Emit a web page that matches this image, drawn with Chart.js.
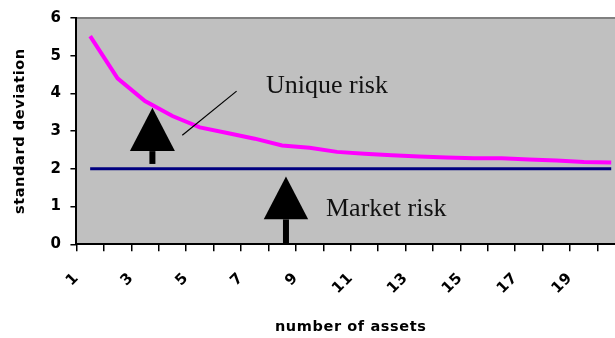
<!DOCTYPE html>
<html>
<head>
<meta charset="utf-8">
<script src="https://cdn.jsdelivr.net/npm/chart.js@4/dist/chart.umd.min.js"></script>
<style>
    html, body { margin: 0; padding: 0; background: #fff; overflow: hidden; }
    #wrap { position: absolute; left: 0; top: 0; width: 642px; height: 338px; }
</style>
</head>
<body>
<div id="wrap"><canvas id="riskChart"></canvas></div>
<script>
// number of assets in the portfolio
const assets = ['1', '2', '3', '4', '5', '6', '7', '8', '9', '10',
    '11', '12', '13', '14', '15', '16', '17', '18', '19', '20'];
// only every second category is labelled on the axis
const shownLabels = ['1', '3', '5', '7', '9', '11', '13', '15', '17', '19'];
// total risk (pink) and market risk (navy)
const totalRisk = [5.52, 4.4, 3.8, 3.4, 3.1, 2.95, 2.8, 2.62, 2.56, 2.45,
    2.4, 2.36, 2.33, 2.3, 2.28, 2.28, 2.25, 2.22, 2.18, 2.17];
const marketRisk = [2, 2, 2, 2, 2, 2, 2, 2, 2, 2,
    2, 2, 2, 2, 2, 2, 2, 2, 2, 2];
const yTicks = [0, 1, 2, 3, 4, 5, 6];

const axisFont = 'DejaVu Sans';

// grey plot background + thin top border, excel style
const plotBackground = {
    id: 'plotBackground',
    beforeLayout(chart) {
        chart.ctx.letterSpacing = '0.6px';
    },
    beforeDraw(chart) {
        const { ctx, chartArea } = chart;
        ctx.letterSpacing = '0.6px';
        ctx.save();
        ctx.fillStyle = '#c0c0c0';
        ctx.fillRect(chartArea.left, chartArea.top, chartArea.right - chartArea.left, chartArea.bottom - chartArea.top);
        ctx.strokeStyle = '#808080';
        ctx.lineWidth = 2;
        ctx.beginPath();
        ctx.moveTo(chartArea.left, chartArea.top);
        ctx.lineTo(chartArea.right, chartArea.top);
        ctx.lineTo(chartArea.right, chartArea.bottom);
        ctx.stroke();
        ctx.restore();
    }
};

// arrows, pointer line and the two labels
const riskNotes = {
    id: 'riskNotes',
    afterDatasetsDraw(chart) {
        const { ctx } = chart;
        const x = chart.scales.x;
        const y = chart.scales.y;
        const catW = x.getPixelForValue(1) - x.getPixelForValue(0);

        function arrow(cx, tip, base, bottom, half) {
            const px = x.getPixelForValue(cx);
            ctx.fillStyle = '#000';
            ctx.beginPath();
            ctx.moveTo(px, y.getPixelForValue(tip));
            ctx.lineTo(px - half * catW, y.getPixelForValue(base));
            ctx.lineTo(px + half * catW, y.getPixelForValue(base));
            ctx.closePath();
            ctx.fill();
            ctx.fillRect(px - 3, y.getPixelForValue(base), 6, y.getPixelForValue(bottom) - y.getPixelForValue(base));
        }

        ctx.save();
        ctx.letterSpacing = '0px';
        arrow(2.27, 3.62, 2.47, 2.13, 0.82);
        arrow(7.14, 1.8, 0.66, 0, 0.81);

        ctx.strokeStyle = '#000';
        ctx.lineWidth = 1.2;
        ctx.beginPath();
        ctx.moveTo(x.getPixelForValue(3.36), y.getPixelForValue(2.89));
        ctx.lineTo(x.getPixelForValue(5.34), y.getPixelForValue(4.06));
        ctx.stroke();

        ctx.fillStyle = '#111';
        ctx.font = '26px "Liberation Serif", "Times New Roman", serif';
        ctx.textAlign = 'left';
        ctx.textBaseline = 'alphabetic';
        ctx.fillText('Unique risk', x.getPixelForValue(6.41), y.getPixelForValue(4.02));
        ctx.fillText('Market risk', x.getPixelForValue(8.6), y.getPixelForValue(0.74));
        ctx.restore();
    }
};

new Chart(document.getElementById('riskChart'), {
    type: 'line',
    data: {
        labels: assets,
        datasets: [{
            label: 'Market risk',
            data: marketRisk,
            borderColor: '#000080',
            borderWidth: 3,
            pointRadius: 0,
            fill: false
        }, {
            label: 'Total risk',
            data: totalRisk,
            borderColor: '#ff00ff',
            borderWidth: 4,
            pointRadius: 0,
            tension: 0,
            fill: false
        }]
    },
    options: {
        responsive: true,
        maintainAspectRatio: false,
        animation: false,
        layout: {
            padding: { left: 12, top: 10, right: 2, bottom: 2 }
        },
        plugins: {
            legend: { display: false },
            tooltip: { enabled: false }
        },
        scales: {
            x: {
                offset: true,
                grid: {
                    offset: true,
                    drawOnChartArea: false,
                    drawTicks: true,
                    tickLength: 7,
                    color: '#000',
                    lineWidth: 1.5
                },
                border: { color: '#000', width: 2 },
                ticks: {
                    autoSkip: false,
                    minRotation: 45,
                    maxRotation: 45,
                    padding: 18,
                    labelOffset: -13.7,
                    color: '#000',
                    font: { family: axisFont, size: 15, weight: 'bold' },
                    callback: function (value) {
                        const lbl = this.getLabelForValue(value);
                        return shownLabels.includes(lbl) ? lbl : '';
                    }
                },
                title: {
                    display: true,
                    text: 'number of assets',
                    color: '#000',
                    font: { family: axisFont, size: 14.5, weight: 'bold' },
                    padding: { top: 3, bottom: 0 }
                }
            },
            y: {
                min: 0,
                max: 6,
                afterBuildTicks: function (scale) {
                    scale.ticks = yTicks.map(v => ({ value: v }));
                },
                grid: {
                    drawOnChartArea: false,
                    drawTicks: true,
                    tickLength: 6,
                    color: '#000',
                    lineWidth: 1.5
                },
                border: { color: '#000', width: 2 },
                ticks: {
                    padding: 9,
                    color: '#000',
                    font: { family: axisFont, size: 15, weight: 'bold' }
                },
                title: {
                    display: true,
                    text: 'standard deviation',
                    color: '#000',
                    font: { family: axisFont, size: 14.5, weight: 'bold' },
                    padding: { top: 0, bottom: 12 }
                }
            }
        }
    },
    plugins: [plotBackground, riskNotes]
});
</script>
</body>
</html>
